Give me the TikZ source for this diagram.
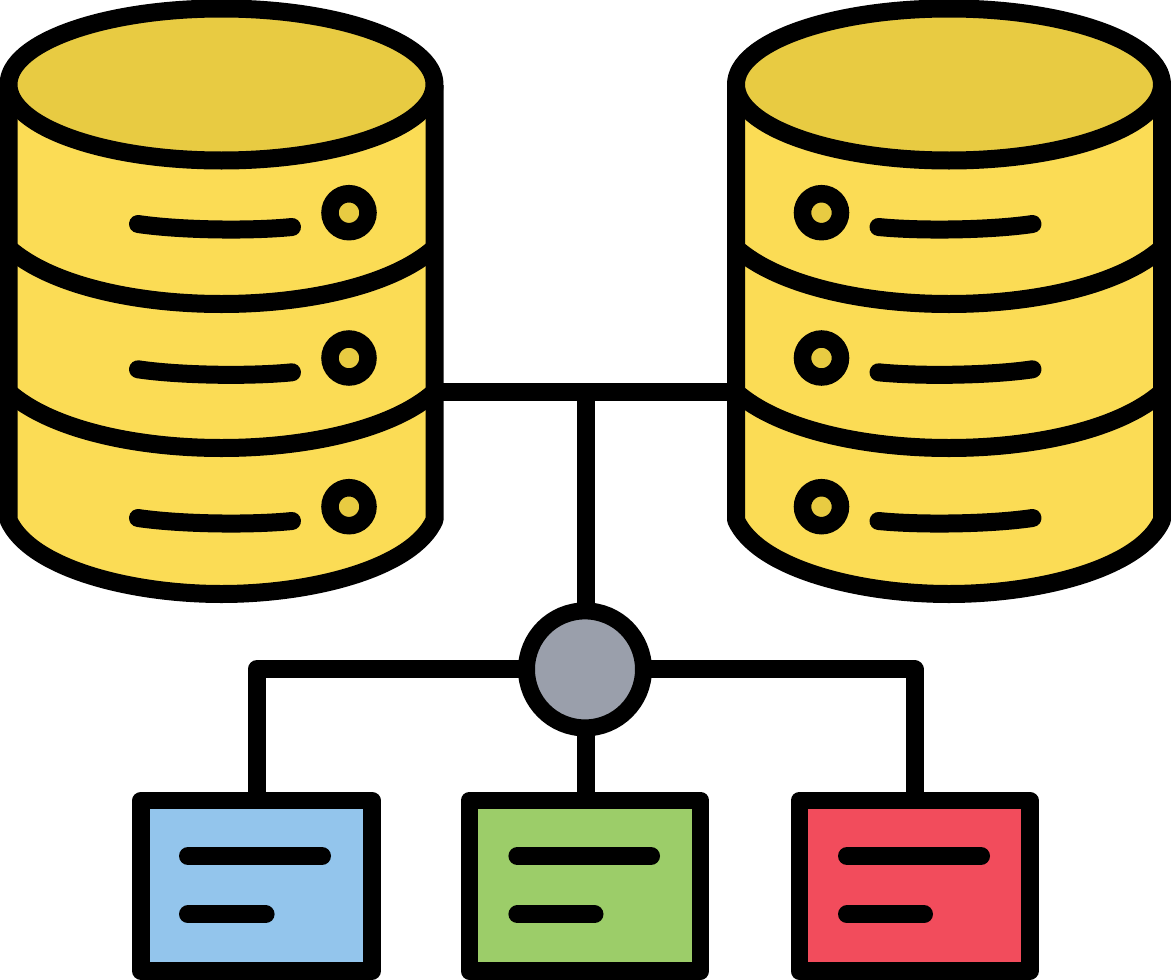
\documentclass[tikz,border=0pt]{standalone}
\definecolor{dbbody}{HTML}{FBDC55}
\definecolor{dbtop}{HTML}{E8CB42}
\definecolor{hubgray}{HTML}{9A9FAB}
\definecolor{boxblue}{HTML}{93C5EC}
\definecolor{boxgreen}{HTML}{9CCD69}
\definecolor{boxred}{HTML}{F24C5C}
\tikzset{
  ink/.style={draw=black,line width=18pt,line join=round},
  wire/.style={draw=black,line width=18pt,line join=round},
  textbar/.style={draw=black,line width=18pt,line cap=round},
  ledring/.style={draw=black,line width=17.5pt,fill=dbtop},
  filebox/.style={draw=black,line width=17.5pt,line join=round,rectangle,inner sep=0pt,outer sep=0pt,minimum width=231pt,minimum height=170.5pt},
  hubnode/.style={draw=black,line width=17pt,circle,fill=hubgray,inner sep=0pt,outer sep=0pt,minimum size=117pt}
}
\newcommand{\dbrow}[1]{%
  \draw[textbar] (138,#1+11.3) .. controls (180,#1+17.5) and (250,#1+18.5) .. (292,#1+14.3);
  \draw[ledring] (349,#1) circle (19);
}
\newcommand{\dbcylinder}{%
  \path[fill=dbbody] (8.5,85) -- (8.5,520) .. controls (30,568) and (130,594) .. (221.5,594) .. controls (313,594) and (413,568) .. (434.5,520) -- (434.5,85) -- cycle;
  \draw[ink] (8.5,85) -- (8.5,520) .. controls (30,568) and (130,594) .. (221.5,594) .. controls (313,594) and (413,568) .. (434.5,520) -- (434.5,85);
  \draw[ink] (8.5,248) .. controls (50,285) and (135,304) .. (221.5,304) .. controls (308,304) and (393,285) .. (434.5,248);
  \draw[ink] (8.5,392) .. controls (50,429) and (135,448) .. (221.5,448) .. controls (308,448) and (393,429) .. (434.5,392);
  \draw[ink,fill=dbtop] (221.5,84.5) ellipse (213 and 76);
  \dbrow{212.7}
  \dbrow{358}
  \dbrow{506.7}
}
\begin{document}
\begin{tikzpicture}[x=1pt,y=-1pt]
\useasboundingbox (0,0) rectangle (1171,980);
\fill[white] (0,0) rectangle (1171,980);
% nodes
\coordinate (dbL) at (434.5,391.5);
\coordinate (dbR) at (736,391.5);
\coordinate (junction) at (585.5,391.5);
\node[hubnode] (hub) at (585,669.4) {};
\node[filebox,fill=boxblue] (blue) at (256.5,885.75) {};
\node[filebox,fill=boxgreen] (green) at (585,885.75) {};
\node[filebox,fill=boxred,minimum width=230.5pt] (red) at (914.5,885.75) {};
% connectors
\draw[wire] (dbL) -- (dbR);
\draw[wire] (junction) -- (junction |- hub.north);
\draw[wire] (hub.west) -| (blue.north);
\draw[wire] (junction |- hub.south) -- (junction |- green.north);
\draw[wire] (hub.east) -| (red.north);
% databases
\dbcylinder
\begin{scope}[xshift=1170.5pt,xscale=-1]
\dbcylinder
\end{scope}
% text bars in boxes
\draw[textbar] (188,856) -- (322,856);
\draw[textbar] (188,914.3) -- (265.6,914.3);
\draw[textbar] (517.4,856) -- (651,856);
\draw[textbar] (517.4,914.3) -- (594.5,914.3);
\draw[textbar] (847,856) -- (981,856);
\draw[textbar] (847,914.3) -- (924,914.3);
\end{tikzpicture}
\end{document}
